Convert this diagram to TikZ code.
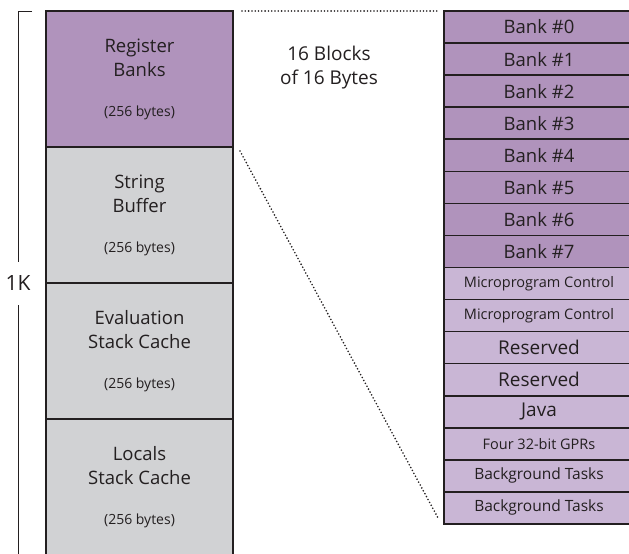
\documentclass[tikz,border=0pt]{standalone}
\usepackage{fontspec}
\setmainfont{Open Sans}
\usetikzlibrary{positioning}
\definecolor{bankpurple}{HTML}{B093BC}
\definecolor{slotlilac}{HTML}{C9B6D5}
\definecolor{memgray}{HTML}{D1D2D4}
\definecolor{inkdark}{HTML}{231F20}

\begin{document}
\begin{tikzpicture}[x=1pt,y=-1pt]
\tikzset{block/.style = {draw=inkdark, line width=1.6pt, minimum width=187pt, minimum height=136pt, inner sep=0pt, outer sep=0pt}}
\tikzset{title/.style = {text=inkdark, align=center, font=\fontsize{18.5}{24}\selectfont}}
\tikzset{bytes/.style = {text=inkdark, font=\fontsize{14}{16}\selectfont}}
\tikzset{slot/.style = {draw=inkdark, line width=1.6pt, minimum width=190pt, minimum height=32.06pt, inner sep=0pt, outer sep=0pt, text=inkdark}}
\tikzset{bank/.style = {slot, fill=bankpurple, font=\fontsize{18.5}{20}\selectfont}}
\tikzset{slotbig/.style = {slot, fill=slotlilac, font=\fontsize{19}{20}\selectfont}}
\tikzset{slotsmall/.style = {slot, fill=slotlilac, font=\fontsize{14.5}{16}\selectfont}}
\tikzset{zoomline/.style = {draw=inkdark, line width=1.8pt, dash pattern=on 0pt off 3.3pt, line cap=round}}
\tikzset{brace/.style = {draw=inkdark, line width=1pt}}
\useasboundingbox (0,0) rectangle (629,554);
\fill[white] (0,0) rectangle (629,554);
% memory blocks
\node[block, fill=bankpurple] (regs) at (139.5,79) {};
\node[block, fill=memgray, below=0pt of regs] (strbuf) {};
\node[block, fill=memgray, below=0pt of strbuf] (evalst) {};
\node[block, fill=memgray, below=0pt of evalst] (locals) {};
\node[title] (regsT) at ([yshift=21pt]regs.center) {Register\\Banks};
\node[bytes] (regsB) at ([yshift=-34pt]regs.center) {(256 bytes)};
\node[title] (strbufT) at ([yshift=21pt]strbuf.center) {String\\Buffer};
\node[bytes] (strbufB) at ([yshift=-34pt]strbuf.center) {(256 bytes)};
\node[title] (evalstT) at ([yshift=21pt]evalst.center) {Evaluation\\Stack Cache};
\node[bytes] (evalstB) at ([yshift=-34pt]evalst.center) {(256 bytes)};
\node[title] (localsT) at ([yshift=21pt]locals.center) {Locals\\Stack Cache};
\node[bytes] (localsB) at ([yshift=-34pt]locals.center) {(256 bytes)};
% size bracket
\coordinate (brtop) at (32,11);
\coordinate (brbot) at (18,560);
\node[text=inkdark, font=\fontsize{21}{24}\selectfont, minimum height=43pt, inner sep=0pt] (onek) at (18,283.5) {1K};
\draw[brace] (brtop) -| (onek.north);
\draw[brace] (onek.south) -- (brbot);
% register bank slots
\node[bank] (bank0) at (539,27.03) {Bank \#0};
\node[bank, below=0pt of bank0] (bank1) {Bank \#1};
\node[bank, below=0pt of bank1] (bank2) {Bank \#2};
\node[bank, below=0pt of bank2] (bank3) {Bank \#3};
\node[bank, below=0pt of bank3] (bank4) {Bank \#4};
\node[bank, below=0pt of bank4] (bank5) {Bank \#5};
\node[bank, below=0pt of bank5] (bank6) {Bank \#6};
\node[bank, below=0pt of bank6] (bank7) {Bank \#7};
\node[slotsmall, below=0pt of bank7] (mpcA) {Microprogram Control};
\node[slotsmall, below=0pt of mpcA] (mpcB) {Microprogram Control};
\node[slotbig, below=0pt of mpcB] (resA) {Reserved};
\node[slotbig, below=0pt of resA] (resB) {Reserved};
\node[slotbig, below=0pt of resB] (java) {Java};
\node[slotsmall, below=0pt of java] (gprs) {Four 32-bit GPRs};
\node[slotsmall, font=\fontsize{15.5}{16}\selectfont, below=0pt of gprs] (bgA) {Background Tasks};
\node[slotsmall, font=\fontsize{15.5}{16}\selectfont, below=0pt of bgA] (bgB) {Background Tasks};
\node[title, font=\fontsize{19}{24}\selectfont] (blocks) at (329,68) {16 Blocks\\of 16 Bytes};
% zoom lines
\draw[zoomline] ([xshift=9pt]regs.north east) -- ([xshift=-7pt]bank0.north west);
\draw[zoomline] ([shift={(7pt,-4pt)}]regs.south east) -- ([shift={(-6pt,6pt)}]bgB.south west);
\end{tikzpicture}
\end{document}
